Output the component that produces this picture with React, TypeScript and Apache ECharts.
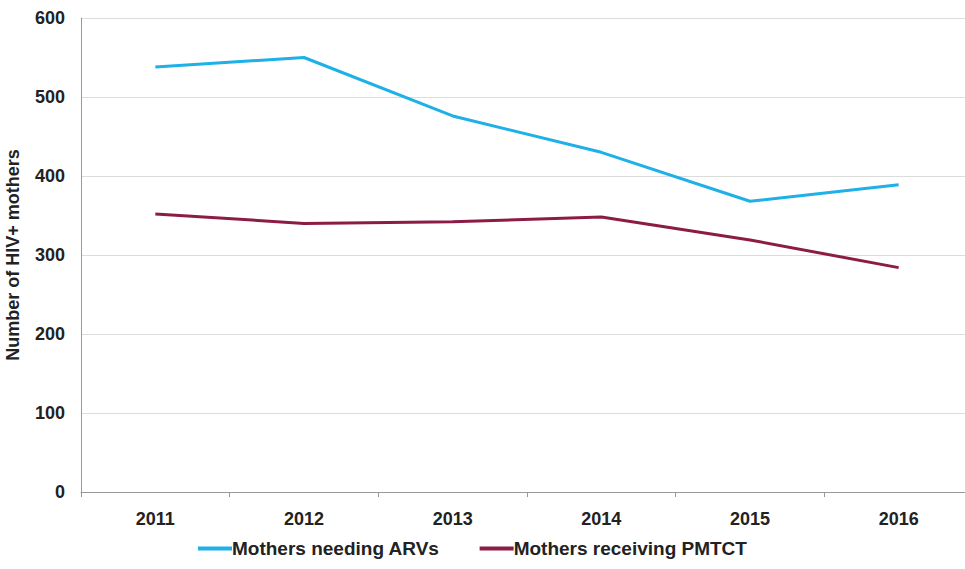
import React, { useEffect, useRef } from "react";
import * as echarts from "echarts";

const years = ["2011", "2012", "2013", "2014", "2015", "2016"];
const needingARVs = [538, 550, 476, 430, 368, 389];
const receivingPMTCT = [352, 340, 342, 348, 319, 284];
const yTicks = { min: 0, max: 600, interval: 100 };

export default function App() {
  const ref = useRef<HTMLDivElement>(null);
  useEffect(() => {
    if (!ref.current) return;
    const chart = echarts.init(ref.current, null, { renderer: "svg" });
    const font = "Liberation Sans, Arial, sans-serif";
    chart.setOption({
      animation: false,
      backgroundColor: "#ffffff",
      grid: { left: 81, right: -8, top: 18, bottom: 77, containLabel: false, outerBoundsMode: "none" },
      legend: {
        bottom: 6,
        left: 193,
        itemGap: 40,
        itemWidth: 34,
        itemHeight: 4,
        icon: "rect",
        textStyle: { fontFamily: font, fontWeight: "bold", fontSize: 19, color: "#222", padding: [0, 0, 0, -5] },
        data: ["Mothers needing ARVs", "Mothers receiving PMTCT"],
      },
      xAxis: {
        type: "category",
        data: years,
        boundaryGap: true,
        axisLine: { lineStyle: { color: "#999", width: 1 } },
        axisTick: { show: true, lineStyle: { color: "#999" }, length: 5 },
        axisLabel: { fontFamily: font, fontWeight: "bold", fontSize: 18, color: "#222", margin: 18 },
      },
      yAxis: {
        type: "value",
        min: yTicks.min,
        max: yTicks.max,
        interval: yTicks.interval,
        name: "Number of HIV+ mothers",
        nameLocation: "middle",
        nameGap: 59,
        nameTextStyle: { fontFamily: font, fontWeight: "bold", fontSize: 18, color: "#222" },
        axisLine: { show: true, lineStyle: { color: "#999" } },
        axisTick: { show: false },
        axisLabel: { fontFamily: font, fontWeight: "bold", fontSize: 18, color: "#222", margin: 16 },
        splitLine: { lineStyle: { color: "#dcdcdc", width: 1 } },
      },
      series: [
        {
          name: "Mothers needing ARVs",
          type: "line",
          data: needingARVs,
          symbol: "none",
          lineStyle: { color: "#1eb0e6", width: 3 },
          itemStyle: { color: "#1eb0e6" },
        },
        {
          name: "Mothers receiving PMTCT",
          type: "line",
          data: receivingPMTCT,
          symbol: "none",
          lineStyle: { color: "#8c1c46", width: 3 },
          itemStyle: { color: "#8c1c46" },
        },
      ],
    });
    return () => chart.dispose();
  }, []);
  return <div ref={ref} style={{ width: 965, height: 569, position: "absolute", left: 0, top: 0 }} />;
}
